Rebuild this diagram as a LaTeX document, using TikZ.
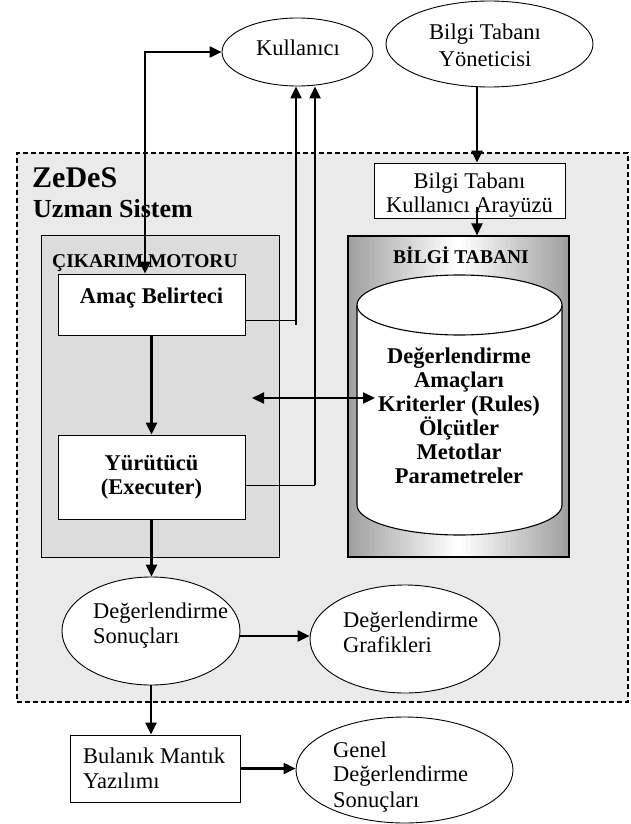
\documentclass[tikz,border=0pt]{standalone}
\usepackage{fontspec}
\setmainfont{Liberation Serif}
\usetikzlibrary{arrows.meta,shapes.geometric}
\definecolor{framebg}{RGB}{234,234,234}
\definecolor{motorbg}{RGB}{220,220,220}
\definecolor{kbedge}{RGB}{160,160,160}
\tikzset{
  txt/.style={inner sep=0pt, font=\fontsize{22.5}{24}\selectfont},
  btxt/.style={inner sep=0pt, font=\fontsize{22.5}{24}\selectfont\bfseries},
  ell/.style={draw, ellipse, fill=white, inner sep=0pt, line width=0.9pt},
  box/.style={draw, rectangle, fill=white, inner sep=0pt, line width=0.9pt},
  arr/.style={line width=2.3pt, -{Triangle[length=12pt,width=11pt]}},
  darr/.style={line width=2.3pt, {Triangle[length=12pt,width=11pt]}-{Triangle[length=12pt,width=11pt]}},
  thinline/.style={line width=0.9pt},
}
\begin{document}
\begin{tikzpicture}[x=1pt,y=1pt]
\useasboundingbox (0,0) rectangle (631,-824);
% frame
\node[draw, fill=framebg, line width=1.8pt, dash pattern=on 5pt off 3pt, inner sep=0pt,
      minimum width=611pt, minimum height=549pt] (zedes) at (322.5,-427.5) {};
% inference engine
\node[draw, fill=motorbg, line width=0.9pt, inner sep=0pt,
      minimum width=238pt, minimum height=322pt] (motor) at (160,-396) {};
% knowledge base (gradient built from strips)
\foreach \i in {0,...,29}{
  \pgfmathsetmacro{\p}{100-\i*100/29}
  \pgfmathsetmacro{\xl}{348+\i*3.6833}
  \pgfmathsetmacro{\xr}{569-\i*3.6833}
  \fill[kbedge!\p!white] (\xl,-236) rectangle ({\xl+4.2},-557);
  \fill[kbedge!\p!white] ({\xr-4.2},-236) rectangle (\xr,-557);
}
\node[draw, line width=1.1pt, inner sep=0pt,
      minimum width=221pt, minimum height=321pt] (kb) at (458.5,-396.5) {};
% cylinder
\fill[white] (357,-305) -- (357,-505) arc[start angle=180,end angle=360,x radius=102.5,y radius=30] -- (562,-305) -- cycle;
\draw[line width=1.1pt] (357,-305) -- (357,-505) arc[start angle=180,end angle=360,x radius=102.5,y radius=30] -- (562,-305);
\draw[line width=1.1pt, fill=white] (459.5,-305) ellipse[x radius=102.5, y radius=30];
% boxes
\node[box, minimum width=187pt, minimum height=61pt] (amac) at (151.5,-304.5) {};
\node[box, minimum width=187pt, minimum height=84pt] (yur) at (151.5,-477) {};
\node[box, minimum width=191pt, minimum height=55pt] (bka) at (469.5,-190.5) {};
\node[box, minimum width=170pt, minimum height=67pt] (bul) at (155,-768.5) {};
% ellipses
\node[ell, minimum width=151pt, minimum height=68pt] (kul) at (297.5,-52) {};
\node[ell, minimum width=207pt, minimum height=86pt] (yon) at (489.5,-44) {};
\node[ell, minimum width=178pt, minimum height=108pt] (ds) at (151,-631) {};
\node[ell, minimum width=190pt, minimum height=108pt] (dg) at (405,-639) {};
\node[ell, minimum width=217pt, minimum height=106pt] (gen) at (404.5,-770) {};
% helper coordinates
\coordinate (xa) at (145,0);
\coordinate (xb) at (296,0);
\coordinate (xc) at (315,0);
\coordinate (xd) at (477,0);
\coordinate (ya) at (0,-320);
\coordinate (yc) at (0,-325);
\coordinate (yb) at (0,-485);
\coordinate (ye) at (0,-207);
\coordinate (yf) at (0,-636);
\coordinate (dl) at (252,-398);
\coordinate (dr) at (375,-398);
% connectors
\draw[darr] (xa |- amac.north) -- (xa |- kul.west) -- (kul.west);
\draw[thinline] (amac.east |- ya) -- (xb |- ya);
\draw[arr] (xb |- yc) -- (xb |- kul.south);
\draw[thinline] (yur.east |- yb) -- (xc |- yb);
\draw[arr] (xc |- yb) -- (xc |- kul.south);
\draw[arr] (amac.south) -- (yur.north);
\draw[arr] (yur.south) -- (yur.south |- ds.north);
\draw[darr] (dl) -- (dr);
\draw[arr] (xd |- yon.south) -- (xd |- bka.north);
\draw[arr] (xd |- ye) -- (xd |- kb.north);
\draw[arr] (ds.east |- yf) -- (dg.west |- yf);
\draw[arr] (ds.south) -- (ds.south |- bul.north);
\draw[arr] (bul.east) -- (bul.east -| gen.west);
% texts
\node[anchor=base west, inner sep=0pt, font=\fontsize{30}{32}\selectfont\bfseries] (t1) at (32,-187) {ZeDeS};
\node[anchor=base west, inner sep=0pt, font=\fontsize{26}{28}\selectfont\bfseries] (t2) at (33,-217) {Uzman Sistem};
\node[anchor=base west, inner sep=0pt, font=\fontsize{19.5}{21}\selectfont\bfseries] (t3) at (52,-267) {ÇIKARIM MOTORU};
\node[anchor=base, inner sep=0pt, font=\fontsize{19.5}{21}\selectfont\bfseries] (t4) at (461,-263) {BİLGİ TABANI};
\node[btxt, anchor=base] (t5) at (151.5,-303) {Amaç Belirteci};
\node[btxt, anchor=base] (t6) at (151.5,-470) {Yürütücü};
\node[btxt, anchor=base] (t7) at (151.5,-494) {(Executer)};
\node[txt, anchor=base] (t8) at (298,-56) {Kullanıcı};
\node[txt, anchor=base] (t9) at (485,-40) {Bilgi Tabanı};
\node[txt, anchor=base] (t10) at (485,-67) {Yöneticisi};
\node[txt, anchor=base] (t11) at (469.5,-188) {Bilgi Tabanı};
\node[txt, anchor=base] (t12) at (469.5,-212) {Kullanıcı Arayüzü};
\node[btxt, anchor=base] (c1) at (459,-363) {Değerlendirme};
\node[btxt, anchor=base] (c2) at (459,-387) {Amaçları};
\node[btxt, anchor=base] (c3) at (459,-411) {Kriterler (Rules)};
\node[btxt, anchor=base] (c4) at (459,-435) {Ölçütler};
\node[btxt, anchor=base] (c5) at (459,-459) {Metotlar};
\node[btxt, anchor=base] (c6) at (459,-483) {Parametreler};
\node[txt, anchor=base west] (d1) at (93,-618) {Değerlendirme};
\node[txt, anchor=base west] (d2) at (93,-643) {Sonuçları};
\node[txt, anchor=base west] (g1) at (343,-627) {Değerlendirme};
\node[txt, anchor=base west] (g2) at (343,-652) {Grafikleri};
\node[txt, anchor=base west] (b1) at (83,-763) {Bulanık Mantık};
\node[txt, anchor=base west] (b2) at (83,-788) {Yazılımı};
\node[txt, anchor=base west] (n1) at (333,-757) {Genel};
\node[txt, anchor=base west] (n2) at (333,-781) {Değerlendirme};
\node[txt, anchor=base west] (n3) at (333,-807) {Sonuçları};
\end{tikzpicture}
\end{document}
